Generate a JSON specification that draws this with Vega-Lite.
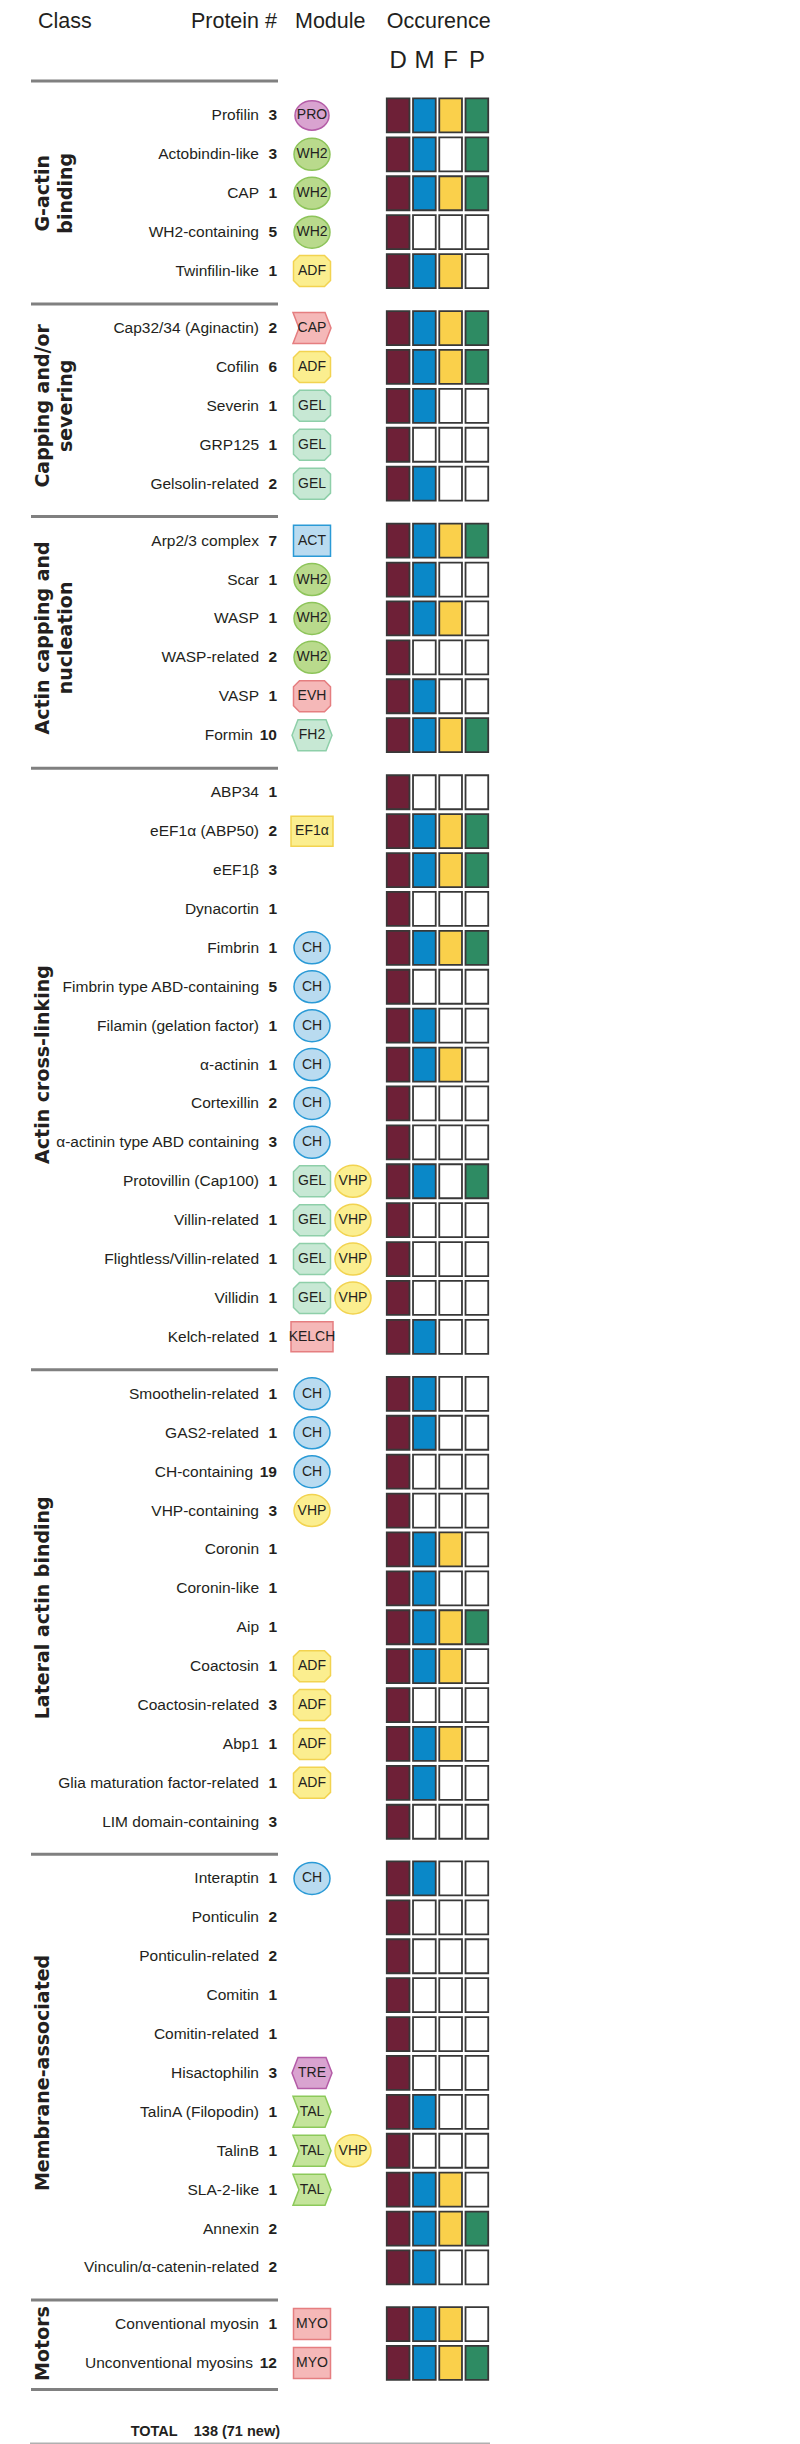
{
"$schema": "https://vega.github.io/schema/vega-lite/v6.json",
"background": "white",
"padding": 0,
"spacing": 12,
"config": {"view": {"stroke": null}},
"datasets": {
"proteins": [
{"class":"G-actin\nbinding","protein":"Profilin","count":3,"mod1":"PRO","mod2":null,"D":true,"M":true,"F":true,"P":true},
{"class":"G-actin\nbinding","protein":"Actobindin-like","count":3,"mod1":"WH2","mod2":null,"D":true,"M":true,"F":false,"P":true},
{"class":"G-actin\nbinding","protein":"CAP","count":1,"mod1":"WH2","mod2":null,"D":true,"M":true,"F":true,"P":true},
{"class":"G-actin\nbinding","protein":"WH2-containing","count":5,"mod1":"WH2","mod2":null,"D":true,"M":false,"F":false,"P":false},
{"class":"G-actin\nbinding","protein":"Twinfilin-like","count":1,"mod1":"ADF","mod2":null,"D":true,"M":true,"F":true,"P":false},
{"class":"Capping and/or\nsevering","protein":"Cap32/34 (Aginactin)","count":2,"mod1":"CAP","mod2":null,"D":true,"M":true,"F":true,"P":true},
{"class":"Capping and/or\nsevering","protein":"Cofilin","count":6,"mod1":"ADF","mod2":null,"D":true,"M":true,"F":true,"P":true},
{"class":"Capping and/or\nsevering","protein":"Severin","count":1,"mod1":"GEL","mod2":null,"D":true,"M":true,"F":false,"P":false},
{"class":"Capping and/or\nsevering","protein":"GRP125","count":1,"mod1":"GEL","mod2":null,"D":true,"M":false,"F":false,"P":false},
{"class":"Capping and/or\nsevering","protein":"Gelsolin-related","count":2,"mod1":"GEL","mod2":null,"D":true,"M":true,"F":false,"P":false},
{"class":"Actin capping and\nnucleation","protein":"Arp2/3 complex","count":7,"mod1":"ACT","mod2":null,"D":true,"M":true,"F":true,"P":true},
{"class":"Actin capping and\nnucleation","protein":"Scar","count":1,"mod1":"WH2","mod2":null,"D":true,"M":true,"F":false,"P":false},
{"class":"Actin capping and\nnucleation","protein":"WASP","count":1,"mod1":"WH2","mod2":null,"D":true,"M":true,"F":true,"P":false},
{"class":"Actin capping and\nnucleation","protein":"WASP-related","count":2,"mod1":"WH2","mod2":null,"D":true,"M":false,"F":false,"P":false},
{"class":"Actin capping and\nnucleation","protein":"VASP","count":1,"mod1":"EVH","mod2":null,"D":true,"M":true,"F":false,"P":false},
{"class":"Actin capping and\nnucleation","protein":"Formin","count":10,"mod1":"FH2","mod2":null,"D":true,"M":true,"F":true,"P":true},
{"class":"Actin cross-linking","protein":"ABP34","count":1,"mod1":null,"mod2":null,"D":true,"M":false,"F":false,"P":false},
{"class":"Actin cross-linking","protein":"eEF1α (ABP50)","count":2,"mod1":"EF1α","mod2":null,"D":true,"M":true,"F":true,"P":true},
{"class":"Actin cross-linking","protein":"eEF1β","count":3,"mod1":null,"mod2":null,"D":true,"M":true,"F":true,"P":true},
{"class":"Actin cross-linking","protein":"Dynacortin","count":1,"mod1":null,"mod2":null,"D":true,"M":false,"F":false,"P":false},
{"class":"Actin cross-linking","protein":"Fimbrin","count":1,"mod1":"CH","mod2":null,"D":true,"M":true,"F":true,"P":true},
{"class":"Actin cross-linking","protein":"Fimbrin type ABD-containing","count":5,"mod1":"CH","mod2":null,"D":true,"M":false,"F":false,"P":false},
{"class":"Actin cross-linking","protein":"Filamin (gelation factor)","count":1,"mod1":"CH","mod2":null,"D":true,"M":true,"F":false,"P":false},
{"class":"Actin cross-linking","protein":"α-actinin","count":1,"mod1":"CH","mod2":null,"D":true,"M":true,"F":true,"P":false},
{"class":"Actin cross-linking","protein":"Cortexillin","count":2,"mod1":"CH","mod2":null,"D":true,"M":false,"F":false,"P":false},
{"class":"Actin cross-linking","protein":"α-actinin type ABD containing","count":3,"mod1":"CH","mod2":null,"D":true,"M":false,"F":false,"P":false},
{"class":"Actin cross-linking","protein":"Protovillin (Cap100)","count":1,"mod1":"GEL","mod2":"VHP","D":true,"M":true,"F":false,"P":true},
{"class":"Actin cross-linking","protein":"Villin-related","count":1,"mod1":"GEL","mod2":"VHP","D":true,"M":false,"F":false,"P":false},
{"class":"Actin cross-linking","protein":"Flightless/Villin-related","count":1,"mod1":"GEL","mod2":"VHP","D":true,"M":false,"F":false,"P":false},
{"class":"Actin cross-linking","protein":"Villidin","count":1,"mod1":"GEL","mod2":"VHP","D":true,"M":false,"F":false,"P":false},
{"class":"Actin cross-linking","protein":"Kelch-related","count":1,"mod1":"KELCH","mod2":null,"D":true,"M":true,"F":false,"P":false},
{"class":"Lateral actin binding","protein":"Smoothelin-related","count":1,"mod1":"CH","mod2":null,"D":true,"M":true,"F":false,"P":false},
{"class":"Lateral actin binding","protein":"GAS2-related","count":1,"mod1":"CH","mod2":null,"D":true,"M":true,"F":false,"P":false},
{"class":"Lateral actin binding","protein":"CH-containing","count":19,"mod1":"CH","mod2":null,"D":true,"M":false,"F":false,"P":false},
{"class":"Lateral actin binding","protein":"VHP-containing","count":3,"mod1":"VHP","mod2":null,"D":true,"M":false,"F":false,"P":false},
{"class":"Lateral actin binding","protein":"Coronin","count":1,"mod1":null,"mod2":null,"D":true,"M":true,"F":true,"P":false},
{"class":"Lateral actin binding","protein":"Coronin-like","count":1,"mod1":null,"mod2":null,"D":true,"M":true,"F":false,"P":false},
{"class":"Lateral actin binding","protein":"Aip","count":1,"mod1":null,"mod2":null,"D":true,"M":true,"F":true,"P":true},
{"class":"Lateral actin binding","protein":"Coactosin","count":1,"mod1":"ADF","mod2":null,"D":true,"M":true,"F":true,"P":false},
{"class":"Lateral actin binding","protein":"Coactosin-related","count":3,"mod1":"ADF","mod2":null,"D":true,"M":false,"F":false,"P":false},
{"class":"Lateral actin binding","protein":"Abp1","count":1,"mod1":"ADF","mod2":null,"D":true,"M":true,"F":true,"P":false},
{"class":"Lateral actin binding","protein":"Glia maturation factor-related","count":1,"mod1":"ADF","mod2":null,"D":true,"M":true,"F":false,"P":false},
{"class":"Lateral actin binding","protein":"LIM domain-containing","count":3,"mod1":null,"mod2":null,"D":true,"M":false,"F":false,"P":false},
{"class":"Membrane-associated","protein":"Interaptin","count":1,"mod1":"CH","mod2":null,"D":true,"M":true,"F":false,"P":false},
{"class":"Membrane-associated","protein":"Ponticulin","count":2,"mod1":null,"mod2":null,"D":true,"M":false,"F":false,"P":false},
{"class":"Membrane-associated","protein":"Ponticulin-related","count":2,"mod1":null,"mod2":null,"D":true,"M":false,"F":false,"P":false},
{"class":"Membrane-associated","protein":"Comitin","count":1,"mod1":null,"mod2":null,"D":true,"M":false,"F":false,"P":false},
{"class":"Membrane-associated","protein":"Comitin-related","count":1,"mod1":null,"mod2":null,"D":true,"M":false,"F":false,"P":false},
{"class":"Membrane-associated","protein":"Hisactophilin","count":3,"mod1":"TRE","mod2":null,"D":true,"M":false,"F":false,"P":false},
{"class":"Membrane-associated","protein":"TalinA (Filopodin)","count":1,"mod1":"TAL","mod2":null,"D":true,"M":true,"F":false,"P":false},
{"class":"Membrane-associated","protein":"TalinB","count":1,"mod1":"TAL","mod2":"VHP","D":true,"M":false,"F":false,"P":false},
{"class":"Membrane-associated","protein":"SLA-2-like","count":1,"mod1":"TAL","mod2":null,"D":true,"M":true,"F":true,"P":false},
{"class":"Membrane-associated","protein":"Annexin","count":2,"mod1":null,"mod2":null,"D":true,"M":true,"F":true,"P":true},
{"class":"Membrane-associated","protein":"Vinculin/α-catenin-related","count":2,"mod1":null,"mod2":null,"D":true,"M":true,"F":false,"P":false},
{"class":"Motors","protein":"Conventional myosin","count":1,"mod1":"MYO","mod2":null,"D":true,"M":true,"F":true,"P":false},
{"class":"Motors","protein":"Unconventional myosins","count":12,"mod1":"MYO","mod2":null,"D":true,"M":true,"F":true,"P":true}
]
},
"vconcat": [
{
 "width": 800, "height": 84,
 "resolve": {"scale": {"x": "independent"}},
 "layer": [
  {"data": {"values": [{"label": "Class"}]},
   "mark": {"type": "text", "align": "left", "baseline": "middle", "font": "Liberation Sans", "fontSize": 21.5, "dx": 7, "color": "#231f20"},
   "encoding": {"x": {"datum": "start", "type": "nominal", "axis": null, "scale": {"type": "point", "domain": ["start", "end"], "range": [31, 278], "padding": 0}},
    "y": {"datum": "title", "type": "nominal", "axis": null, "bandPosition": 0.524, "scale": {"type": "band", "domain": ["title", "letters"], "paddingInner": 0, "paddingOuter": 0}},
    "text": {"field": "label", "type": "nominal"}}},
  {"data": {"values": [{"label": "Protein #"}]},
   "mark": {"type": "text", "align": "right", "baseline": "middle", "font": "Liberation Sans", "fontSize": 21.5, "color": "#231f20"},
   "encoding": {"x": {"datum": "count", "type": "nominal", "axis": null, "scale": {"type": "point", "domain": ["name", "count"], "range": [259, 277], "padding": 0}},
    "y": {"datum": "title", "type": "nominal", "axis": null, "bandPosition": 0.524, "scale": {"type": "band", "domain": ["title", "letters"], "paddingInner": 0, "paddingOuter": 0}},
    "text": {"field": "label", "type": "nominal"}}},
  {"data": {"values": [{"label": "Module"}]},
   "mark": {"type": "text", "align": "left", "baseline": "middle", "font": "Liberation Sans", "fontSize": 21.5, "dx": -17, "color": "#231f20"},
   "encoding": {"x": {"datum": "mod1", "type": "nominal", "axis": null, "scale": {"type": "point", "domain": ["mod1", "mod2"], "range": [312, 353], "padding": 0}},
    "y": {"datum": "title", "type": "nominal", "axis": null, "bandPosition": 0.524, "scale": {"type": "band", "domain": ["title", "letters"], "paddingInner": 0, "paddingOuter": 0}},
    "text": {"field": "label", "type": "nominal"}}},
  {"data": {"values": [{"label": "Occurence"}]},
   "mark": {"type": "text", "align": "left", "baseline": "middle", "font": "Liberation Sans", "fontSize": 21.5, "color": "#231f20"},
   "encoding": {"x": {"datum": "D", "type": "nominal", "bandPosition": 0, "axis": null, "scale": {"type": "band", "domain": ["D", "M", "F", "P"], "range": [385, 490], "paddingInner": 0.135, "paddingOuter": 0.0675}},
    "y": {"datum": "title", "type": "nominal", "axis": null, "bandPosition": 0.524, "scale": {"type": "band", "domain": ["title", "letters"], "paddingInner": 0, "paddingOuter": 0}},
    "text": {"field": "label", "type": "nominal"}}},
  {"data": {"values": [{"organism": "D"}, {"organism": "M"}, {"organism": "F"}, {"organism": "P"}]},
   "mark": {"type": "text", "align": "center", "baseline": "middle", "font": "Liberation Sans", "fontSize": 24, "color": "#231f20"},
   "encoding": {"x": {"field": "organism", "type": "nominal", "axis": null, "scale": {"type": "band", "domain": ["D", "M", "F", "P"], "range": [385, 490], "paddingInner": 0.135, "paddingOuter": 0.0675}},
    "y": {"datum": "letters", "type": "nominal", "axis": null, "bandPosition": 0.452, "scale": {"type": "band", "domain": ["title", "letters"], "paddingInner": 0, "paddingOuter": 0}},
    "text": {"field": "organism", "type": "nominal"}}},
  {"data": {"values": [{"label": "separator"}]},
   "mark": {"type": "rule", "color": "#808080", "strokeWidth": 3},
   "encoding": {"x": {"datum": "start", "type": "nominal", "axis": null, "scale": {"type": "point", "domain": ["start", "end"], "range": [31, 278], "padding": 0}},
    "x2": {"datum": "end"},
    "y": {"datum": "letters", "type": "nominal", "axis": null, "bandPosition": 0.929, "scale": {"type": "band", "domain": ["title", "letters"], "paddingInner": 0, "paddingOuter": 0}}}}
 ]
},
{
 "data": {"name": "proteins"},
 "bounds": "flush",
 "facet": {"row": {"field": "class", "type": "nominal", "header": null,
   "sort": ["G-actin\nbinding", "Capping and/or\nsevering", "Actin capping and\nnucleation", "Actin cross-linking", "Lateral actin binding", "Membrane-associated", "Motors"]}},
 "spacing": {"row": 17.6},
 "resolve": {"scale": {"y": "independent", "x": "independent"}},
 "spec": {
  "width": 800,
  "height": {"step": 38.9},
  "resolve": {"scale": {"x": "independent", "fill": "independent"}},
  "layer": [
   {"mark": {"type": "text", "align": "right", "baseline": "middle", "font": "Liberation Sans", "fontSize": 15.5, "fontWeight": "bold", "color": "#231f20"},
    "encoding": {
     "y": {"field": "protein", "type": "nominal", "sort": null, "axis": null, "scale": {"paddingInner": 0, "paddingOuter": 0}},
     "x": {"datum": "count", "type": "nominal", "axis": null, "scale": {"type": "point", "domain": ["name", "count"], "range": [259, 277], "padding": 0}},
     "text": {"field": "count", "type": "nominal"}}},
   {"transform": [{"filter": "datum.count < 10"}],
    "mark": {"type": "text", "align": "right", "baseline": "middle", "font": "Liberation Sans", "fontSize": 15.5, "color": "#231f20"},
    "encoding": {
     "y": {"field": "protein", "type": "nominal", "sort": null, "axis": null, "scale": {"paddingInner": 0, "paddingOuter": 0}},
     "x": {"datum": "name", "type": "nominal", "axis": null, "scale": {"type": "point", "domain": ["name", "count"], "range": [259, 277], "padding": 0}},
     "text": {"field": "protein", "type": "nominal"}}},
   {"transform": [{"filter": "datum.count >= 10"}],
    "mark": {"type": "text", "align": "right", "baseline": "middle", "dx": -6, "font": "Liberation Sans", "fontSize": 15.5, "color": "#231f20"},
    "encoding": {
     "y": {"field": "protein", "type": "nominal", "sort": null, "axis": null, "scale": {"paddingInner": 0, "paddingOuter": 0}},
     "x": {"datum": "name", "type": "nominal", "axis": null, "scale": {"type": "point", "domain": ["name", "count"], "range": [259, 277], "padding": 0}},
     "text": {"field": "protein", "type": "nominal"}}},
   {"transform": [{"fold": ["mod1", "mod2"], "as": ["slot", "module"]}, {"filter": "isValid(datum.module)"}],
    "mark": {"type": "point", "filled": true, "opacity": 1, "size": 1764, "strokeWidth": 1.5},
    "encoding": {
     "y": {"field": "protein", "type": "nominal", "sort": null, "axis": null, "scale": {"paddingInner": 0, "paddingOuter": 0}},
     "x": {"field": "slot", "type": "nominal", "axis": null, "scale": {"type": "point", "domain": ["mod1", "mod2"], "range": [312, 353], "padding": 0}},
     "shape": {"field": "module", "type": "nominal", "legend": null, "scale": {
       "domain": ["PRO", "WH2", "ADF", "CAP", "GEL", "ACT", "EVH", "FH2", "EF1α", "CH", "VHP", "KELCH", "TRE", "TAL", "MYO"],
       "range": [
        "M-0.81,0A0.81,0.7,0,1,1,0.81,0A0.81,0.7,0,1,1,-0.81,0Z",
        "M-0.857,0A0.857,0.762,0,1,1,0.857,0A0.857,0.762,0,1,1,-0.857,0Z",
        "M-0.595,-0.738H0.595L0.881,-0.452V0.452L0.595,0.738H-0.595L-0.881,0.452V-0.452Z",
        "M-0.905,-0.738H0.62L0.905,0L0.62,0.738H-0.905L-0.62,0Z",
        "M-0.595,-0.738H0.595L0.881,-0.452V0.452L0.595,0.738H-0.595L-0.881,0.452V-0.452Z",
        "M-0.881,-0.738H0.881V0.738H-0.881Z",
        "M-0.595,-0.738H0.595L0.881,-0.452V0.452L0.595,0.738H-0.595L-0.881,0.452V-0.452Z",
        "M-0.952,0L-0.667,-0.738H0.667L0.952,0L0.667,0.738H-0.667Z",
        "M-1,-0.714H1V0.714H-1Z",
        "M-0.857,0A0.857,0.762,0,1,1,0.857,0A0.857,0.762,0,1,1,-0.857,0Z",
        "M-0.857,0A0.857,0.762,0,1,1,0.857,0A0.857,0.762,0,1,1,-0.857,0Z",
        "M-1,-0.714H1V0.714H-1Z",
        "M-0.952,0L-0.667,-0.738H0.667L0.952,0L0.667,0.738H-0.667Z",
        "M-0.905,-0.738H0.62L0.905,0L0.62,0.738H-0.905L-0.62,0Z",
        "M-0.881,-0.738H0.881V0.738H-0.881Z"]}},
     "fill": {"field": "module", "type": "nominal", "legend": null, "scale": {
       "domain": ["PRO", "WH2", "ADF", "CAP", "GEL", "ACT", "EVH", "FH2", "EF1α", "CH", "VHP", "KELCH", "TRE", "TAL", "MYO"],
       "range": ["#d9a3d0", "#b9da8c", "#fbee8f", "#f5b8b8", "#c7e8d4", "#b9dbf0", "#f5b8b8", "#c7e8d4", "#fbee8f", "#b9dbf0", "#fbee8f", "#f5b8b8", "#d9a3d0", "#c4e49b", "#f5b8b8"]}},
     "stroke": {"field": "module", "type": "nominal", "legend": null, "scale": {
       "domain": ["PRO", "WH2", "ADF", "CAP", "GEL", "ACT", "EVH", "FH2", "EF1α", "CH", "VHP", "KELCH", "TRE", "TAL", "MYO"],
       "range": ["#b45ca7", "#8dc45a", "#f2d350", "#e57e80", "#8ecfa9", "#2a9ad6", "#e57e80", "#8ecfa9", "#f2d350", "#2a9ad6", "#f2d350", "#e57e80", "#b45ca7", "#8cc95a", "#e57e80"]}}}},
   {"transform": [{"fold": ["mod1", "mod2"], "as": ["slot", "module"]}, {"filter": "isValid(datum.module)"}],
    "mark": {"type": "text", "align": "center", "baseline": "middle", "font": "Liberation Sans", "fontSize": 14, "color": "#231f20"},
    "encoding": {
     "y": {"field": "protein", "type": "nominal", "sort": null, "axis": null, "scale": {"paddingInner": 0, "paddingOuter": 0}},
     "x": {"field": "slot", "type": "nominal", "axis": null, "scale": {"type": "point", "domain": ["mod1", "mod2"], "range": [312, 353], "padding": 0}},
     "text": {"field": "module", "type": "nominal"}}},
   {"transform": [{"fold": ["D", "M", "F", "P"], "as": ["organism", "present"]}],
    "mark": {"type": "rect", "height": {"band": 0.874}, "stroke": "#383838", "strokeWidth": 1.8},
    "encoding": {
     "y": {"field": "protein", "type": "nominal", "sort": null, "axis": null, "scale": {"paddingInner": 0, "paddingOuter": 0}},
     "x": {"field": "organism", "type": "nominal", "axis": null, "scale": {"type": "band", "domain": ["D", "M", "F", "P"], "range": [385, 490], "paddingInner": 0.135, "paddingOuter": 0.0675}},
     "fill": {"condition": {"test": "datum.present === true", "field": "organism", "type": "nominal", "legend": null,
        "scale": {"domain": ["D", "M", "F", "P"], "range": ["#6e2037", "#0a88c8", "#fad04b", "#2e8b63"]}}, "value": "#ffffff"}}},
   {"transform": [{"window": [{"op": "row_number", "as": "rn"}], "groupby": ["class"]}, {"joinaggregate": [{"op": "count", "as": "n"}], "groupby": ["class"]}, {"filter": "datum.rn == (datum.n + 1) / 2"}],
    "mark": {"type": "text", "angle": 270, "align": "center", "baseline": "top", "dy": 3, "lineBreak": "\n", "lineHeight": 23, "font": "DejaVu Sans", "fontSize": 19, "fontWeight": "bold", "color": "#231f20"},
    "encoding": {
     "y": {"field": "protein", "type": "nominal", "sort": null, "axis": null, "bandPosition": 0.5, "scale": {"paddingInner": 0, "paddingOuter": 0}},
     "x": {"datum": "start", "type": "nominal", "axis": null, "scale": {"type": "point", "domain": ["start", "end"], "range": [31, 278], "padding": 0}},
     "text": {"field": "class", "type": "nominal"}}},
   {"transform": [{"window": [{"op": "row_number", "as": "rn"}], "groupby": ["class"]}, {"joinaggregate": [{"op": "count", "as": "n"}], "groupby": ["class"]}, {"filter": "datum.rn == datum.n / 2"}],
    "mark": {"type": "text", "angle": 270, "align": "center", "baseline": "top", "dy": 3, "lineBreak": "\n", "lineHeight": 23, "font": "DejaVu Sans", "fontSize": 19, "fontWeight": "bold", "color": "#231f20"},
    "encoding": {
     "y": {"field": "protein", "type": "nominal", "sort": null, "axis": null, "bandPosition": 1, "scale": {"paddingInner": 0, "paddingOuter": 0}},
     "x": {"datum": "start", "type": "nominal", "axis": null, "scale": {"type": "point", "domain": ["start", "end"], "range": [31, 278], "padding": 0}},
     "text": {"field": "class", "type": "nominal"}}},
   {"transform": [{"window": [{"op": "row_number", "as": "rn"}], "groupby": ["class"]}, {"filter": "datum.rn == 1 && indexof(datum.class, 'G-actin') < 0"}],
    "mark": {"type": "rule", "color": "#808080", "strokeWidth": 3},
    "encoding": {
     "y": {"field": "protein", "type": "nominal", "sort": null, "axis": null, "bandPosition": -0.12, "scale": {"paddingInner": 0, "paddingOuter": 0}},
     "x": {"datum": "start", "type": "nominal", "axis": null, "scale": {"type": "point", "domain": ["start", "end"], "range": [31, 278], "padding": 0}},
     "x2": {"datum": "end"}}},
   {"transform": [{"window": [{"op": "row_number", "as": "rn"}], "groupby": ["class"]}, {"joinaggregate": [{"op": "count", "as": "n"}], "groupby": ["class"]}, {"filter": "datum.rn == datum.n && datum.class == 'Motors'"}],
    "mark": {"type": "rule", "color": "#808080", "strokeWidth": 3},
    "encoding": {
     "y": {"field": "protein", "type": "nominal", "sort": null, "axis": null, "bandPosition": 1.18, "scale": {"paddingInner": 0, "paddingOuter": 0}},
     "x": {"datum": "start", "type": "nominal", "axis": null, "scale": {"type": "point", "domain": ["start", "end"], "range": [31, 278], "padding": 0}},
     "x2": {"datum": "end"}}}
  ]
 }
},
{
 "width": 800, "height": 42,
 "resolve": {"scale": {"x": "independent"}},
 "layer": [
  {"data": {"values": [{"label": "TOTAL\u00a0\u00a0\u00a0\u00a0138 (71 new)"}]},
   "mark": {"type": "text", "align": "right", "baseline": "middle", "dx": 3, "font": "Liberation Sans", "fontSize": 14.5, "fontWeight": "bold", "color": "#231f20"},
   "encoding": {"x": {"datum": "count", "type": "nominal", "axis": null, "scale": {"type": "point", "domain": ["name", "count"], "range": [259, 277], "padding": 0}},
    "y": {"datum": "total", "type": "nominal", "axis": null, "bandPosition": 0.702, "scale": {"type": "band", "domain": ["total"], "paddingInner": 0, "paddingOuter": 0}},
    "text": {"field": "label", "type": "nominal"}}},
  {"data": {"values": [{"label": "frame"}]},
   "mark": {"type": "rule", "color": "#b0b0b0", "strokeWidth": 2},
   "encoding": {"x": {"datum": "left", "type": "nominal", "axis": null, "scale": {"type": "point", "domain": ["left", "right"], "range": [30, 490], "padding": 0}},
    "x2": {"datum": "right"},
    "y": {"datum": "total", "type": "nominal", "axis": null, "bandPosition": 0.964, "scale": {"type": "band", "domain": ["total"], "paddingInner": 0, "paddingOuter": 0}}}}
 ]
}
]
}
